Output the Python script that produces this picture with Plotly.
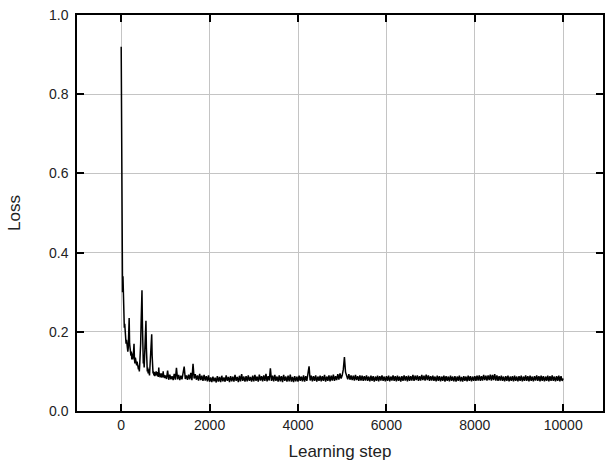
import plotly.graph_objects as go

# Learning steps (sampling grid)
steps_early = list(range(0, 1000, 10))
steps_late = list(range(1000, 10001, 25))

loss_early = [
    0.92, 0.55, 0.38, 0.30, 0.34, 0.26, 0.24, 0.21, 0.22, 0.19,
    0.20, 0.17, 0.18, 0.16, 0.17, 0.15, 0.16, 0.19, 0.235, 0.17,
    0.15, 0.16, 0.14, 0.15, 0.13, 0.145, 0.13, 0.14, 0.15, 0.17,
    0.13, 0.12, 0.135, 0.12, 0.13, 0.115, 0.125, 0.11, 0.12, 0.105,
    0.115, 0.10, 0.12, 0.14, 0.17, 0.22, 0.27, 0.305, 0.22, 0.15,
    0.12, 0.13, 0.11, 0.14, 0.17, 0.21, 0.228, 0.16, 0.12, 0.10,
    0.11, 0.095, 0.105, 0.10, 0.09, 0.11, 0.13, 0.16, 0.19, 0.194,
    0.14, 0.11, 0.095, 0.10, 0.09, 0.098, 0.088, 0.096, 0.09, 0.10,
    0.092, 0.098, 0.088, 0.094, 0.086, 0.11, 0.09, 0.096, 0.085, 0.093,
    0.087, 0.095, 0.084, 0.092, 0.086, 0.10, 0.085, 0.091, 0.083, 0.090,
]

loss_late = [
    0.090, 0.081, 0.102, 0.079, 0.092, 0.080, 0.088, 0.078, 0.094, 0.079, 0.109, 0.080, 0.091, 0.078, 0.089, 0.080, 0.093, 0.112, 0.081, 0.090,
    0.079, 0.092, 0.080, 0.096, 0.078, 0.119, 0.082, 0.093, 0.079, 0.090, 0.077, 0.094, 0.078, 0.089, 0.076, 0.091, 0.077, 0.088, 0.075, 0.090,
    0.074, 0.085, 0.073, 0.087, 0.075, 0.084, 0.072, 0.088, 0.074, 0.086, 0.073, 0.089, 0.075, 0.085, 0.074, 0.090, 0.076, 0.086, 0.073, 0.088,
    0.075, 0.087, 0.074, 0.091, 0.076, 0.086, 0.073, 0.089, 0.075, 0.093, 0.076, 0.087, 0.074, 0.088, 0.075, 0.090, 0.076, 0.086, 0.074, 0.089,
    0.075, 0.091, 0.076, 0.087, 0.074, 0.092, 0.077, 0.088, 0.075, 0.090, 0.076, 0.094, 0.075, 0.088, 0.077, 0.108, 0.076, 0.089, 0.075, 0.091,
    0.076, 0.087, 0.074, 0.090, 0.075, 0.088, 0.073, 0.091, 0.076, 0.087, 0.074, 0.089, 0.075, 0.092, 0.074, 0.086, 0.073, 0.088, 0.075, 0.087,
    0.074, 0.089, 0.076, 0.087, 0.075, 0.090, 0.074, 0.088, 0.076, 0.091, 0.113, 0.077, 0.089, 0.075, 0.088, 0.076, 0.090, 0.074, 0.087, 0.076,
    0.089, 0.075, 0.088, 0.076, 0.091, 0.074, 0.087, 0.076, 0.090, 0.075, 0.089, 0.077, 0.092, 0.076, 0.088, 0.078, 0.093, 0.079, 0.095, 0.082,
    0.090, 0.105, 0.136, 0.098, 0.088, 0.080, 0.093, 0.079, 0.090, 0.078, 0.089, 0.077, 0.091, 0.078, 0.088, 0.076, 0.090, 0.077, 0.089, 0.076,
    0.088, 0.077, 0.090, 0.076, 0.087, 0.075, 0.089, 0.076, 0.088, 0.074, 0.087, 0.076, 0.089, 0.075, 0.088, 0.077, 0.090, 0.076, 0.087, 0.075,
    0.088, 0.076, 0.089, 0.075, 0.087, 0.077, 0.090, 0.076, 0.088, 0.075, 0.089, 0.076, 0.087, 0.074, 0.088, 0.076, 0.090, 0.077, 0.088, 0.075,
    0.089, 0.076, 0.088, 0.077, 0.091, 0.076, 0.089, 0.078, 0.090, 0.076, 0.088, 0.077, 0.091, 0.078, 0.089, 0.077, 0.092, 0.078, 0.090, 0.076,
    0.088, 0.077, 0.089, 0.076, 0.087, 0.075, 0.089, 0.076, 0.088, 0.075, 0.087, 0.076, 0.089, 0.074, 0.088, 0.076, 0.087, 0.075, 0.089, 0.076,
    0.087, 0.075, 0.088, 0.074, 0.087, 0.076, 0.089, 0.075, 0.086, 0.074, 0.088, 0.076, 0.087, 0.075, 0.089, 0.076, 0.088, 0.075, 0.087, 0.076,
    0.088, 0.076, 0.089, 0.077, 0.090, 0.076, 0.088, 0.077, 0.091, 0.078, 0.089, 0.077, 0.090, 0.078, 0.092, 0.077, 0.091, 0.078, 0.093, 0.077,
    0.090, 0.076, 0.088, 0.077, 0.089, 0.076, 0.087, 0.075, 0.088, 0.076, 0.089, 0.075, 0.087, 0.076, 0.088, 0.075, 0.089, 0.076, 0.087, 0.075,
    0.088, 0.076, 0.089, 0.075, 0.087, 0.076, 0.090, 0.076, 0.088, 0.075, 0.089, 0.076, 0.087, 0.075, 0.088, 0.077, 0.090, 0.076, 0.088, 0.075,
    0.089, 0.076, 0.088, 0.075, 0.087, 0.076, 0.089, 0.075, 0.088, 0.076, 0.090, 0.076, 0.087, 0.075, 0.088, 0.076, 0.089, 0.075, 0.088, 0.076,
    0.082,
]

x_ticks = [0, 2000, 4000, 6000, 8000, 10000]
y_ticks = [0.0, 0.2, 0.4, 0.6, 0.8, 1.0]

steps = steps_early + steps_late
loss = loss_early + loss_late

fig = go.Figure()
fig.add_trace(go.Scatter(
    x=steps, y=loss, mode="lines",
    line=dict(color="black", width=1.5),
    showlegend=False,
))

font_family = "Liberation Sans, Arial, sans-serif"
axis_common = dict(
    showline=True, linecolor="black", linewidth=1.5, mirror="ticks",
    ticks="inside", ticklen=7, tickwidth=1.5, tickcolor="black",
    showgrid=True, gridcolor="#c4c4c4", gridwidth=1,
    zeroline=False,
    tickfont=dict(family=font_family, size=14, color="#222"),
)

fig.update_layout(
    width=607, height=468,
    margin=dict(l=77, r=2, t=15, b=57),
    paper_bgcolor="white", plot_bgcolor="white",
    font=dict(family=font_family, color="#222"),
    xaxis=dict(
        range=[-1000, 10900], tickvals=x_ticks,
        ticktext=[str(v) for v in x_ticks],
        title=dict(text="Learning step", font=dict(size=17), standoff=14),
        ticklabelstandoff=0,
        **axis_common,
    ),
    yaxis=dict(
        range=[0, 1.0], tickvals=y_ticks,
        ticktext=[f"{v:.1f}" for v in y_ticks],
        title=dict(text="Loss", font=dict(size=17), standoff=24),
        ticklabelstandoff=4,
        **axis_common,
    ),
)

fig.write_html("out.html")
